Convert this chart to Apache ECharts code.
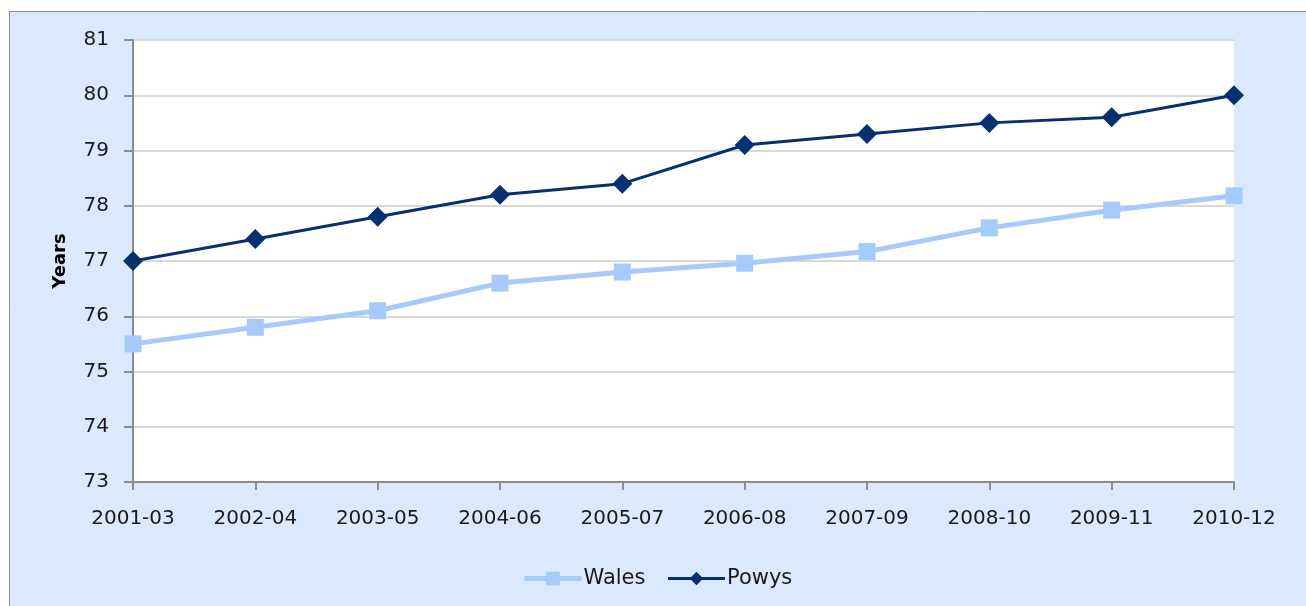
<!DOCTYPE html>
<html>
<head>
<meta charset="utf-8">
<script src="https://cdn.jsdelivr.net/npm/echarts@6/dist/echarts.min.js"></script>
<style>
html,body{margin:0;padding:0;background:#ffffff;}
#c{width:1306px;height:606px;}
</style>
</head>
<body>
<div id="c"></div>
<script>
var categories = ['2001-03','2002-04','2003-05','2004-06','2005-07','2006-08','2007-09','2008-10','2009-11','2010-12'];
var wales = [75.5, 75.8, 76.1, 76.6, 76.8, 76.96, 77.17, 77.6, 77.92, 78.18];
var powys = [77.0, 77.4, 77.8, 78.2, 78.4, 79.1, 79.3, 79.5, 79.6, 80.0];
var yTicks = [73, 74, 75, 76, 77, 78, 79, 80, 81];

var chart = echarts.init(document.getElementById('c'));
var labelFont = '"DejaVu Sans", sans-serif';
chart.setOption({
  animation: false,
  backgroundColor: '#ffffff',
  graphic: [{
    type: 'rect',
    shape: {x: 9.5, y: 11.5, width: 1310, height: 610},
    style: {fill: '#dbe9fc', stroke: '#8c8c8c', lineWidth: 1},
    z: -10
  }, {
    type: 'rect',
    shape: {x: 133, y: 40, width: 1101, height: 442},
    style: {fill: '#ffffff'},
    z: -5
  }],
  grid: {left: 133, right: 72, top: 40, bottom: 124, containLabel: false},
  legend: {
    top: 563,
    left: 517,
    itemWidth: 57,
    itemHeight: 17,
    itemGap: 21,
    textStyle: {fontFamily: labelFont, fontSize: 21, color: '#1a1a1a', padding: [0,0,0,-3]},
    data: [
      {name: 'Wales', lineStyle: {width: 5, color: '#a6cafa'}},
      {name: 'Powys', lineStyle: {width: 3, color: '#06306e'}}
    ]
  },
  xAxis: {
    type: 'category',
    data: categories,
    boundaryGap: false,
    axisLine: {lineStyle: {color: '#8c8c8c', width: 2}},
    axisTick: {show: true, length: 8, alignWithLabel: true, lineStyle: {color: '#8c8c8c', width: 2}},
    axisLabel: {fontFamily: labelFont, fontSize: 20, color: '#1a1a1a', margin: 27, interval: 0},
    splitLine: {show: false}
  },
  yAxis: {
    type: 'value',
    min: yTicks[0],
    max: yTicks[yTicks.length - 1],
    interval: 1,
    name: 'Years',
    nameLocation: 'middle',
    nameGap: 64,
    nameRotate: 90,
    nameTextStyle: {fontFamily: '"DejaVu Sans", sans-serif', fontWeight: 'bold', fontSize: 18, color: '#000000'},
    axisLine: {show: true, lineStyle: {color: '#8c8c8c', width: 2}},
    axisTick: {show: true, length: 9, lineStyle: {color: '#8c8c8c', width: 2}},
    axisLabel: {fontFamily: labelFont, fontSize: 20, color: '#1a1a1a', margin: 24},
    splitLine: {show: true, lineStyle: {color: '#d9d9d9', width: 2}}
  },
  series: [{
    name: 'Wales',
    type: 'line',
    data: wales,
    symbol: 'rect',
    symbolSize: 17,
    lineStyle: {color: '#a6cafa', width: 5},
    itemStyle: {color: '#a6cafa'},
    z: 2
  }, {
    name: 'Powys',
    type: 'line',
    data: powys,
    symbol: 'diamond',
    symbolSize: 20,
    lineStyle: {color: '#06306e', width: 3},
    itemStyle: {color: '#06306e'},
    z: 3
  }]
});
</script>
</body>
</html>
